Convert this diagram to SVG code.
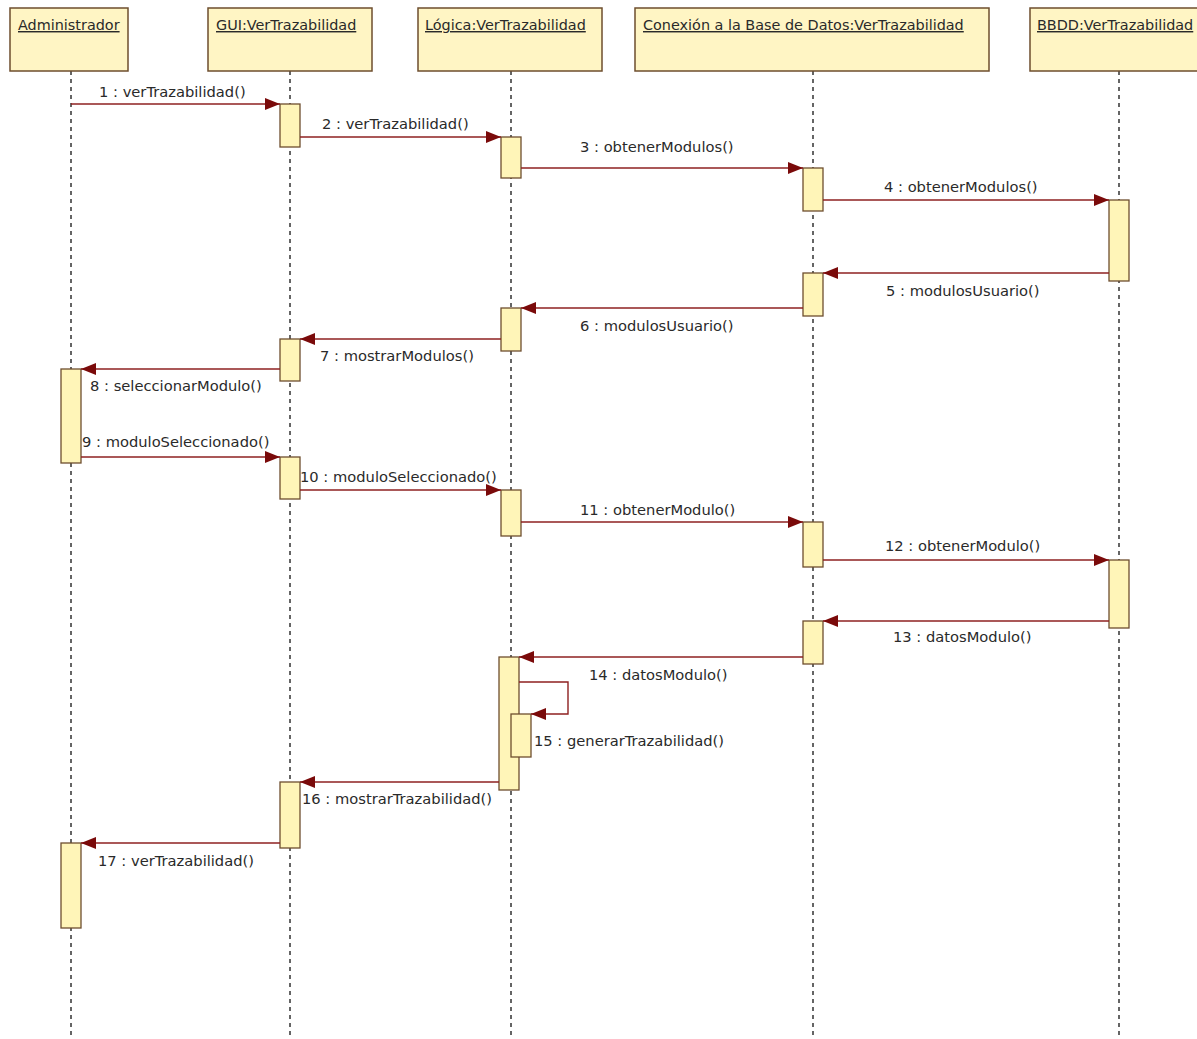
<svg xmlns="http://www.w3.org/2000/svg" width="1197" height="1039" viewBox="0 0 1197 1039">
<style>
.box{fill:#FFF5C4;stroke:#6E4E2E;stroke-width:1.5}
.bar{fill:#FFF5B8;stroke:#6E4E2E;stroke-width:1.3}
.life{stroke:#333;stroke-width:1.5;stroke-dasharray:4,4;fill:none}
.msg{stroke:#8E2020;stroke-width:1.4;fill:none;marker-end:url(#ah)}
.hdr{font-family:"DejaVu Sans",sans-serif;font-size:14.4px;fill:#2a2a2a;text-decoration:underline}
.lbl{font-family:"DejaVu Sans",sans-serif;font-size:14.7px;fill:#2a2a2a}
</style>
<defs>
<marker id="ah" markerUnits="userSpaceOnUse" markerWidth="16" markerHeight="12" refX="15" refY="6" orient="auto">
<path d="M0,0 L15,6 L0,12 z" fill="#7A0A0A"/>
</marker>
</defs>
<rect width="1197" height="1039" fill="#fff"/>
<g id="lifelines">
<line class="life" x1="71" y1="71" x2="71" y2="1039"/>
<line class="life" x1="290" y1="71" x2="290" y2="1039"/>
<line class="life" x1="511" y1="71" x2="511" y2="1039"/>
<line class="life" x1="813" y1="71" x2="813" y2="1039"/>
<line class="life" x1="1119" y1="71" x2="1119" y2="1039"/>
</g>
<g id="n-admin"><rect class="box" x="10" y="8" width="118" height="63"/><text class="hdr" x="18" y="30">Administrador</text></g>
<g id="n-gui"><rect class="box" x="208" y="8" width="164" height="63"/><text class="hdr" x="216" y="30">GUI:VerTrazabilidad</text></g>
<g id="n-logica"><rect class="box" x="418" y="8" width="184" height="63"/><text class="hdr" x="425" y="30">Lógica:VerTrazabilidad</text></g>
<g id="n-conexion"><rect class="box" x="635" y="8" width="354" height="63"/><text class="hdr" x="643" y="30">Conexión a la Base de Datos:VerTrazabilidad</text></g>
<g id="n-bbdd"><rect class="box" x="1030" y="8" width="190" height="63"/><text class="hdr" x="1037" y="30">BBDD:VerTrazabilidad</text></g>
<g id="activations">
<rect class="bar" x="280" y="104" width="20" height="43"/>
<rect class="bar" x="501" y="137" width="20" height="41"/>
<rect class="bar" x="803" y="168" width="20" height="43"/>
<rect class="bar" x="1109" y="200" width="20" height="81"/>
<rect class="bar" x="803" y="273" width="20" height="43"/>
<rect class="bar" x="501" y="308" width="20" height="43"/>
<rect class="bar" x="280" y="339" width="20" height="42"/>
<rect class="bar" x="61" y="369" width="20" height="94"/>
<rect class="bar" x="280" y="457" width="20" height="42"/>
<rect class="bar" x="501" y="490" width="20" height="46"/>
<rect class="bar" x="803" y="522" width="20" height="45"/>
<rect class="bar" x="1109" y="560" width="20" height="68"/>
<rect class="bar" x="803" y="621" width="20" height="43"/>
<rect class="bar" x="499" y="657" width="20" height="133"/>
<rect class="bar" x="511" y="714" width="20" height="43"/>
<rect class="bar" x="280" y="782" width="20" height="66"/>
<rect class="bar" x="61" y="843" width="20" height="85"/>
</g>
<g id="connectors">
<line class="msg" x1="71" y1="104" x2="280" y2="104"/>
<line class="msg" x1="300" y1="137" x2="501" y2="137"/>
<line class="msg" x1="521" y1="168" x2="803" y2="168"/>
<line class="msg" x1="823" y1="200" x2="1109" y2="200"/>
<line class="msg" x1="1109" y1="273" x2="823" y2="273"/>
<line class="msg" x1="803" y1="308" x2="521" y2="308"/>
<line class="msg" x1="501" y1="339" x2="300" y2="339"/>
<line class="msg" x1="280" y1="369" x2="81" y2="369"/>
<line class="msg" x1="81" y1="457" x2="280" y2="457"/>
<line class="msg" x1="300" y1="490" x2="501" y2="490"/>
<line class="msg" x1="521" y1="522" x2="803" y2="522"/>
<line class="msg" x1="823" y1="560" x2="1109" y2="560"/>
<line class="msg" x1="1109" y1="621" x2="823" y2="621"/>
<line class="msg" x1="803" y1="657" x2="519" y2="657"/>
<polyline class="msg" points="519,682 568,682 568,714 531,714"/>
<line class="msg" x1="499" y1="782" x2="300" y2="782"/>
<line class="msg" x1="280" y1="843" x2="81" y2="843"/>
</g>
<g id="labels">
<text class="lbl" x="99" y="97">1 : verTrazabilidad()</text>
<text class="lbl" x="322" y="129">2 : verTrazabilidad()</text>
<text class="lbl" x="580" y="152">3 : obtenerModulos()</text>
<text class="lbl" x="884" y="192">4 : obtenerModulos()</text>
<text class="lbl" x="886" y="296">5 : modulosUsuario()</text>
<text class="lbl" x="580" y="331">6 : modulosUsuario()</text>
<text class="lbl" x="320" y="361">7 : mostrarModulos()</text>
<text class="lbl" x="90" y="391">8 : seleccionarModulo()</text>
<text class="lbl" x="82" y="447">9 : moduloSeleccionado()</text>
<text class="lbl" x="300" y="482">10 : moduloSeleccionado()</text>
<text class="lbl" x="580" y="515">11 : obtenerModulo()</text>
<text class="lbl" x="885" y="551">12 : obtenerModulo()</text>
<text class="lbl" x="893" y="642">13 : datosModulo()</text>
<text class="lbl" x="589" y="680">14 : datosModulo()</text>
<text class="lbl" x="534" y="746">15 : generarTrazabilidad()</text>
<text class="lbl" x="302" y="804">16 : mostrarTrazabilidad()</text>
<text class="lbl" x="98" y="866">17 : verTrazabilidad()</text>
</g>
</svg>
